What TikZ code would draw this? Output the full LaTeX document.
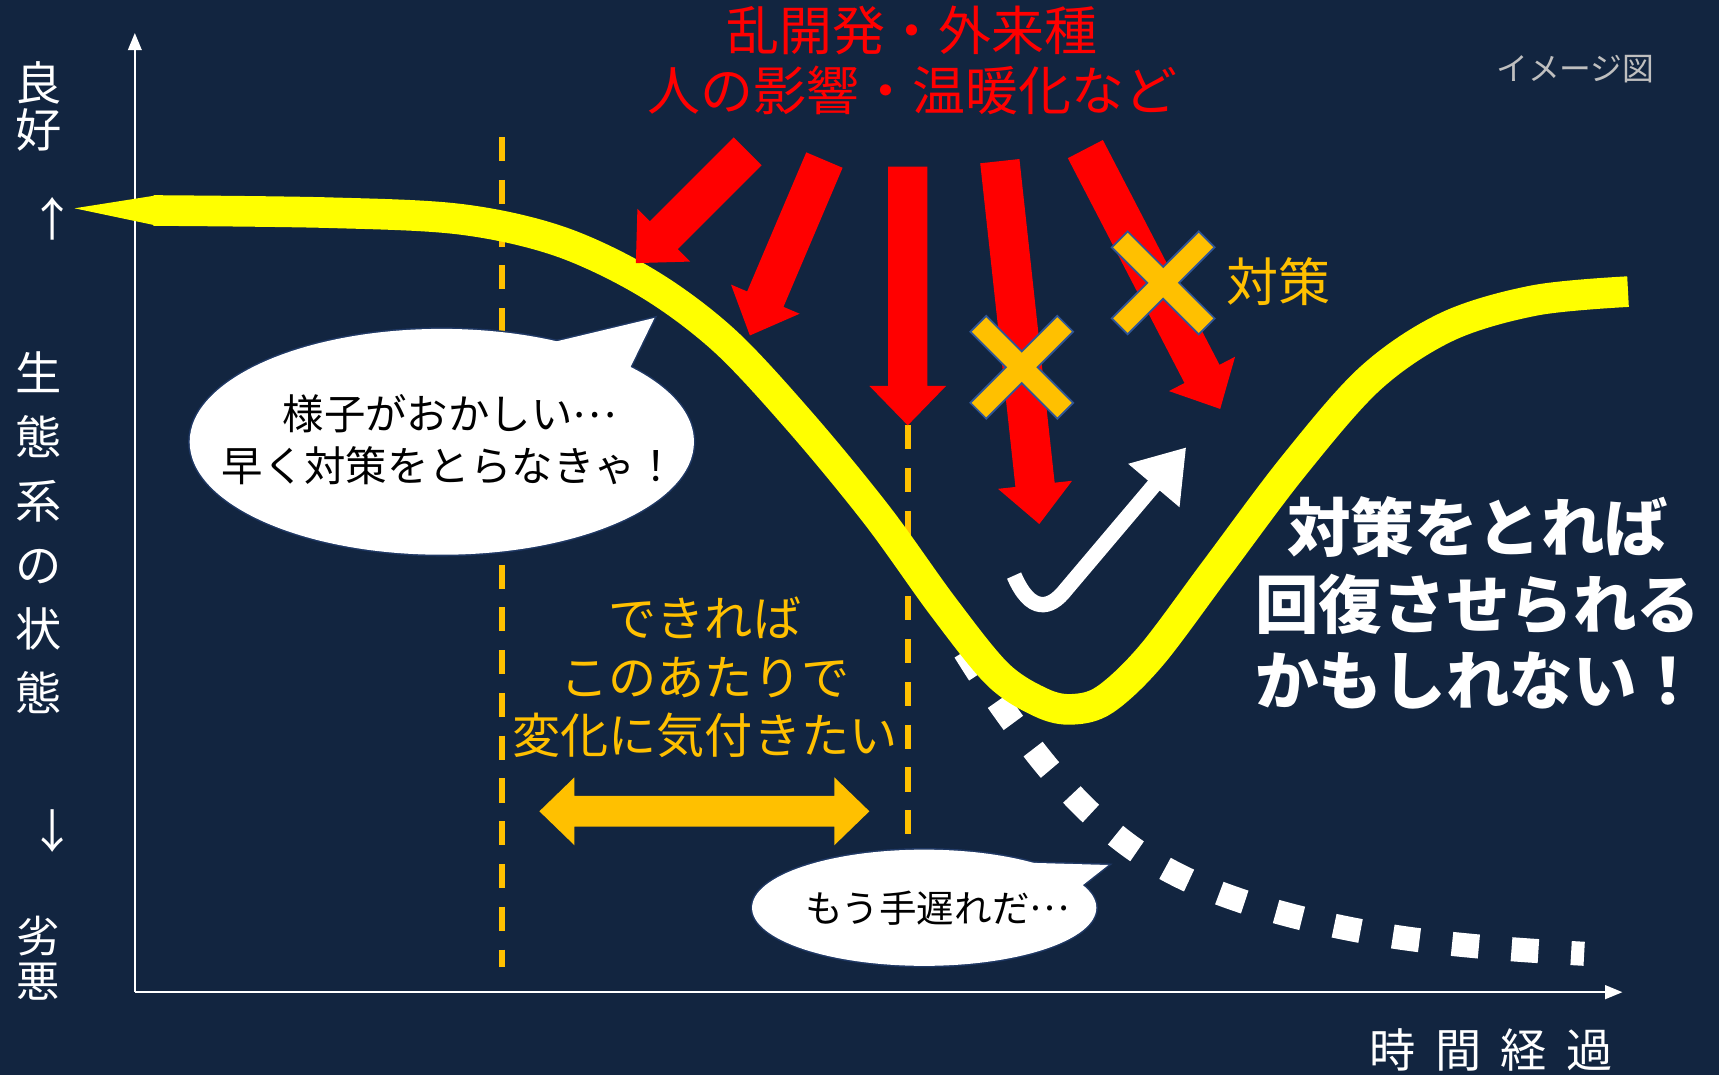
\documentclass[tikz,border=0pt]{standalone}
\usepackage{fontspec}
\newfontfamily\jp{Noto Sans CJK JP}
\usetikzlibrary{arrows.meta,calc}
\definecolor{bgc}{RGB}{18,37,64}
\definecolor{redc}{RGB}{255,0,0}
\definecolor{yelc}{RGB}{255,255,0}
\definecolor{orc}{RGB}{255,192,0}
\definecolor{bubline}{RGB}{31,56,100}
\definecolor{xline}{RGB}{47,85,151}
\definecolor{grayc}{RGB}{191,191,191}
\newcommand{\blockarrow}[6]{%
  \coordinate (hb) at ($(#3)!#6!(#2)$);
  \fill[#1] ($(#2)!#4!90:(#3)$) -- ($(hb)!#4!90:(#3)$) -- ($(hb)!#5!90:(#3)$) -- (#3) -- ($(hb)!#5!-90:(#3)$) -- ($(hb)!#4!-90:(#3)$) -- ($(#2)!#4!-90:(#3)$) -- cycle;}
\newcommand{\midell}{\raisebox{0.3em}{…}}
\tikzset{
  lbl/.style={inner sep=0pt, outer sep=0pt, align=center},
  axisline/.style={draw=white, line width=1.3pt, -{Triangle[length=9pt,width=7pt]}},
  guide/.style={draw=orc, line width=2.9pt, dash pattern=on 12.5pt off 9.7pt},
  bubout/.style={draw=bubline, line width=1.6pt},
  bubfill/.style={fill=white},
  xout/.style={draw=xline, line width=12.6pt, shorten <=-1pt, shorten >=-1pt},
  xin/.style={draw=orc, line width=10.6pt},
}
\begin{document}
\begin{tikzpicture}[x=0.02cm,y=-0.02cm]
% background
\fill[bgc] (0,0) rectangle (1568,981);
\useasboundingbox (0,0) rectangle (1568,981);

% axes
\coordinate (origin) at (123,905);
\coordinate (ytop) at (123,30);
\coordinate (xend) at (1480,905);
\draw[axisline] (origin) -- (ytop);
\draw[axisline] (origin) -- (xend);

% guide dashed lines
\coordinate (g1a) at (458,125);
\coordinate (g1b) at (458,882);
\coordinate (g2a) at (828,388);
\coordinate (g2b) at (828,772);
\draw[guide] (g1a) -- (g1b);
\draw[guide] (g2a) -- (g2b);

% white dotted decline
\draw[white, line width=12.5pt, dash pattern=on 14pt off 17pt]
  plot[smooth, tension=0.6] coordinates {(880,594) (900,625) (930,667) (960,705) (995,742) (1035,775) (1080,801) (1130,821) (1185,837) (1240,849) (1290,857) (1345,863) (1395,867) (1445,870)};

% yellow curve
\fill[yelc] (68,190) -- (144,178) -- (144,206) -- cycle;
\draw[yelc, line width=15.9pt]
  plot[smooth, tension=0.55] coordinates {(140,192) (300,194) (420,200) (510,220) (590,258) (660,310) (730,385) (800,470) (860,553) (910,615) (950,641) (978,647) (1008,638) (1050,598) (1110,518) (1180,425) (1250,345) (1320,298) (1400,274) (1485,266)};

% bubble 1
\coordinate (b1c) at (403,403);
\coordinate (t1a) at (505,312);
\coordinate (t1tip) at (597,290);
\coordinate (t1b) at (575,335);
\draw[bubout] (b1c) ellipse [x radius=230, y radius=103];
\draw[bubout] (t1a) -- (t1tip) -- (t1b);
\fill[bubfill] (b1c) ellipse [x radius=230, y radius=103];
\fill[bubfill] (t1a) -- (t1tip) -- (t1b) -- cycle;

% bubble 2
\coordinate (b2c) at (843,828);
\coordinate (t2a) at (940,787);
\coordinate (t2tip) at (1011,789);
\coordinate (t2b) at (983,811);
\draw[bubout] (b2c) ellipse [x radius=157, y radius=53];
\draw[bubout] (t2a) -- (t2tip) -- (t2b);
\fill[bubfill] (b2c) ellipse [x radius=157, y radius=53];
\fill[bubfill] (t2a) -- (t2tip) -- (t2b) -- cycle;

% red arrows
\coordinate (r1s) at (682,138); \coordinate (r1t) at (580,240);
\coordinate (r2s) at (752,146); \coordinate (r2t) at (684,306);
\coordinate (r3s) at (828,152); \coordinate (r3t) at (828,388);
\coordinate (r4s) at (912,147); \coordinate (r4t) at (948,478);
\coordinate (r5s) at (990,136); \coordinate (r5t) at (1113,373);
\blockarrow{redc}{r1s}{r1t}{0.36cm}{0.68cm}{0.72cm}
\blockarrow{redc}{r2s}{r2t}{0.36cm}{0.68cm}{0.72cm}
\blockarrow{redc}{r3s}{r3t}{0.36cm}{0.70cm}{0.72cm}
\blockarrow{redc}{r4s}{r4t}{0.36cm}{0.68cm}{0.72cm}
\blockarrow{redc}{r5s}{r5t}{0.36cm}{0.68cm}{0.72cm}

% orange X marks
\coordinate (xa1) at (893,296); \coordinate (xa2) at (971,374);
\coordinate (xa3) at (971,296); \coordinate (xa4) at (893,374);
\coordinate (xb1) at (1022,219); \coordinate (xb2) at (1100,297);
\coordinate (xb3) at (1100,219); \coordinate (xb4) at (1022,297);
\draw[xout] (xa1) -- (xa2);
\draw[xout] (xa3) -- (xa4);
\draw[xin] (xa1) -- (xa2);
\draw[xin] (xa3) -- (xa4);
\draw[xout] (xb1) -- (xb2);
\draw[xout] (xb3) -- (xb4);
\draw[xin] (xb1) -- (xb2);
\draw[xin] (xb3) -- (xb4);

% white swoosh
\coordinate (sw0) at (925,525);
\coordinate (sw1) at (972,538);
\coordinate (sw2) at (1082,408);
\draw[white, line width=8pt, -{Triangle[length=26pt,width=33pt]}]
  (sw0) .. controls (940,560) and (958,556) .. (sw1) -- (sw2);

% orange double arrow
\fill[orc] (492,740) -- (524,709) -- (524,726) -- (761,726) -- (761,709) -- (793,740) -- (761,771) -- (761,754) -- (524,754) -- (524,771) -- cycle;

% texts
\node[lbl, text=redc, font=\jp\fontsize{27.5}{31.3}\selectfont] (title) at (832,55) {乱開発・外来種\\人の影響・温暖化など};
\node[lbl, text=grayc, font=\jp\fontsize{16.5}{20}\selectfont] (img) at (1437,63) {イメージ図};
\node[lbl, text=orc, font=\jp\fontsize{27}{30}\selectfont] (taisaku) at (1166,257) {対策};
\node[lbl, text=white, font=\jp\bfseries\fontsize{33}{39.8}\selectfont] (msg) at (1348,550) {対策をとれば\\回復させられる\\かもしれない！};
\node[lbl, text=black, font=\jp\fontsize{21.5}{26.7}\selectfont] (b1text) at (410,401) {様子がおかしい\midell\\早く対策をとらなきゃ！};
\node[lbl, text=black, font=\jp\fontsize{19.5}{22}\selectfont] (b2text) at (855,828) {もう手遅れだ\midell};
\node[lbl, text=orc, font=\jp\fontsize{25}{30.4}\selectfont] (wish) at (643,618) {できれば\\このあたりで\\変化に気付きたい};

\node[lbl, text=white, font=\jp\fontsize{24}{24.5}\selectfont] (good) at (35,97) {良\\好};
\node[lbl, text=white, font=\jp\fontsize{24}{24.5}\selectfont] (up) at (48,200) {↑};
\node[lbl, text=white, font=\jp\fontsize{24}{33.2}\selectfont] (eco) at (35,486) {生\\態\\系\\の\\状\\態};
\node[lbl, text=white, font=\jp\fontsize{24}{24.5}\selectfont] (down) at (48,758) {↓};
\node[lbl, text=white, font=\jp\fontsize{22.5}{23}\selectfont] (bad) at (35,874) {劣\\悪};
\node[lbl, text=white, font=\jp\fontsize{24}{28}\selectfont] (time) at (1360,958) {時\kern10pt 間\kern10pt 経\kern10pt 過};
\end{tikzpicture}
\end{document}
